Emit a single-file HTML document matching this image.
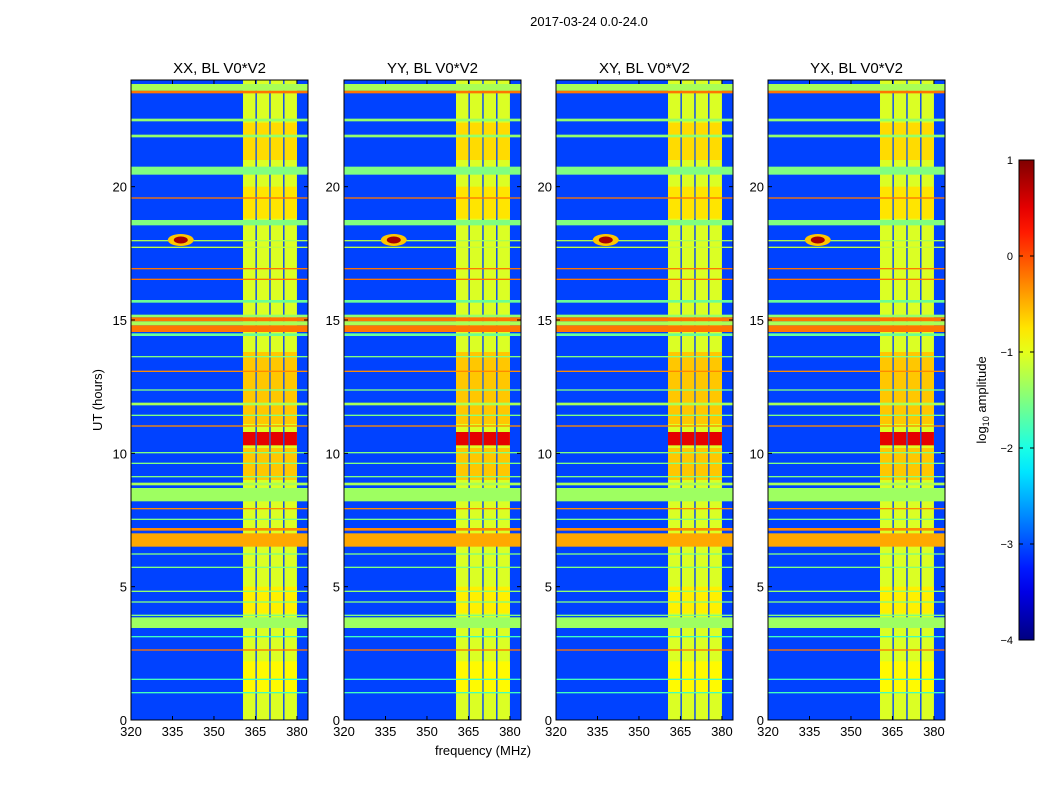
<!DOCTYPE html>
<html><head><meta charset="utf-8">
<style>
body{margin:0;background:#fff;}
svg text{font-family:"Liberation Sans",sans-serif;fill:#000;}
</style></head>
<body>
<svg id="fig" width="1050" height="800" viewBox="0 0 1050 800" xmlns="http://www.w3.org/2000/svg">
<text x="589" y="26" font-size="13" text-anchor="middle">2017-03-24 0.0-24.0</text>
<text x="483" y="755" font-size="13" text-anchor="middle">frequency (MHz)</text>
<text transform="translate(102,400) rotate(-90)" font-size="13" text-anchor="middle">UT (hours)</text>
<text transform="translate(986,400) rotate(-90)" font-size="13" text-anchor="middle">log<tspan font-size="9" dy="3">10</tspan><tspan dy="-3"> amplitude</tspan></text>
</svg>
<script>
const panelTitles=["XX, BL V0*V2","YY, BL V0*V2","XY, BL V0*V2","YX, BL V0*V2"];
const panelLeft=[131,344,556,768];
const xTicks=[320,335,350,365,380];
const yTicks=[0,5,10,15,20];
const cbTicks=[1,0,-1,-2,-3,-4];
const baseValue=-3.05;
const columnBase=-1.05;
const freqBands=[[360.5,365],[365.5,370],[370.5,375],[375.5,380]];
const timeBands=[[23.5,23.6,-0.2],[23.6,23.85,-1.3],[22.45,22.55,-1.4],[21.85,21.95,-1.4],[20.45,20.75,-1.5],[19.55,19.6,-0.2],[18.55,18.75,-1.5],[17.7,17.75,-1.2],[17.95,18.0,-1.3],[16.9,16.95,-0.2],[16.5,16.55,-0.2],[15.65,15.75,-1.6],[15.1,15.2,-1.4],[14.95,15.1,-0.2],[14.8,14.95,-1.3],[14.55,14.8,-0.2],[14.4,14.5,-1.6],[13.6,13.65,-1.5],[13.05,13.1,-0.3],[12.35,12.4,-1.5],[11.8,11.9,-1.3],[11.4,11.45,-1.5],[11.0,11.05,-0.3],[10.0,10.05,-1.5],[9.6,9.65,-1.5],[9.1,9.15,-1.5],[8.8,8.9,-1.3],[8.2,8.7,-1.35],[7.9,7.95,-0.3],[7.5,7.55,-1.5],[7.1,7.2,-0.3],[6.5,7.0,-0.45],[6.2,6.25,-1.5],[5.7,5.75,-1.5],[4.8,4.85,-1.4],[4.4,4.45,-1.5],[3.9,3.95,-1.5],[3.45,3.85,-1.35],[3.1,3.15,-1.8],[2.6,2.65,-0.2],[1.5,1.55,-1.8],[1.0,1.05,-1.8]];
const columnBlocks=[[10.3,10.8,0.5],[9.0,10.2,-0.6],[11.1,13.8,-0.6],[21.0,22.4,-0.7],[18.8,20.0,-0.75],[4.0,5.0,-0.8],[1.0,2.2,-0.85]];
const peakFreq=[338], peakTime=[18.0], peakValue=[0.8];

const NS="http://www.w3.org/2000/svg";
const svg=document.getElementById('fig');
const top0=80,bot0=720,pw=177;
function jet(v){
  let t=Math.max(0,Math.min(1,(v+4)/5));
  const c=x=>Math.round(255*Math.max(0,Math.min(1,x)));
  let r=1.5-Math.abs(4*t-3),g=1.5-Math.abs(4*t-2),b=1.5-Math.abs(4*t-1);
  return `rgb(${c(r)},${c(g)},${c(b)})`;
}
function el(tag,attrs,parent){const e=document.createElementNS(NS,tag);for(const k in attrs)e.setAttribute(k,attrs[k]);(parent||svg).appendChild(e);return e;}
const ys=h=>bot0-(h/24)*(bot0-top0);

panelLeft.forEach((x0,p)=>{
  const xs=f=>x0+(f-320)/64*pw;
  const g=el('g',{});
  
  
  const bg=el('rect',{x:x0,y:top0,width:pw,height:bot0-top0,fill:jet(baseValue)},g);
  
  
  freqBands.forEach(fb=>{
    const r=el('rect',{x:xs(fb[0]),y:top0,width:xs(fb[1])-xs(fb[0]),height:bot0-top0,fill:jet(columnBase)},g);
    
    
    columnBlocks.forEach(cb=>{
      const q=el('rect',{x:xs(fb[0]),y:ys(cb[1]),width:xs(fb[1])-xs(fb[0]),height:ys(cb[0])-ys(cb[1]),fill:jet(cb[2])},g);
      
      
    });
  });
  timeBands.forEach(tb=>{
    const r=el('rect',{x:x0,y:ys(tb[1]),width:pw,height:Math.max(1,ys(tb[0])-ys(tb[1])),fill:jet(tb[2])},g);
    
    
  });
  peakFreq.forEach((f,i)=>{
    const e1=el('ellipse',{cx:xs(f),cy:ys(peakTime[i]),rx:13,ry:6,fill:jet(-0.6)},g);
    
    
    const e=el('ellipse',{cx:xs(f),cy:ys(peakTime[i]),rx:7,ry:3.5,fill:jet(peakValue[i])},g);
    
    
  });
  const fr=el('rect',{x:x0,y:top0,width:pw,height:bot0-top0,fill:'none',stroke:'#000','stroke-width':1},g);
  
  
  const t=el('text',{x:x0+pw/2,y:73,'font-size':15,'text-anchor':'middle'},g);
  t.textContent=panelTitles[p];
  
  
  xTicks.forEach(v=>{
    const x=xs(v);
    el('line',{x1:x,x2:x,y1:bot0,y2:bot0-4,stroke:'#000'},g);
    el('line',{x1:x,x2:x,y1:top0,y2:top0+4,stroke:'#000'},g);
    const l=el('text',{x:x,y:bot0+16,'font-size':13,'text-anchor':'middle'},g);
    l.textContent=v;
    
    
  });
  yTicks.forEach(v=>{
    const y=ys(v);
    el('line',{x1:x0,x2:x0+4,y1:y,y2:y,stroke:'#000'},g);
    el('line',{x1:x0+pw,x2:x0+pw-4,y1:y,y2:y,stroke:'#000'},g);
    const l=el('text',{x:x0-4,y:y+5,'font-size':13,'text-anchor':'end'},g);
    l.textContent=v;
    
    
  });
});

const defs=el('defs',{});
const grad=el('linearGradient',{id:'jetg',x1:0,y1:1,x2:0,y2:0},defs);
for(let i=0;i<=20;i++){el('stop',{offset:i/20,'stop-color':jet(-4+5*i/20)},grad);}
const cb=el('rect',{x:1019,y:160,width:15,height:480,fill:'url(#jetg)',stroke:'#000'});


cbTicks.forEach(v=>{
  const y=640-(v+4)/5*480;
  el('line',{x1:1019,x2:1023,y1:y,y2:y,stroke:'#000'});
  el('line',{x1:1034,x2:1030,y1:y,y2:y,stroke:'#000'});
  const l=el('text',{x:1013,y:y+4,'font-size':11,'text-anchor':'end'});
  l.textContent=v<0?'\u2212'+(-v):v;
  
  
});
</script>
</body></html>
